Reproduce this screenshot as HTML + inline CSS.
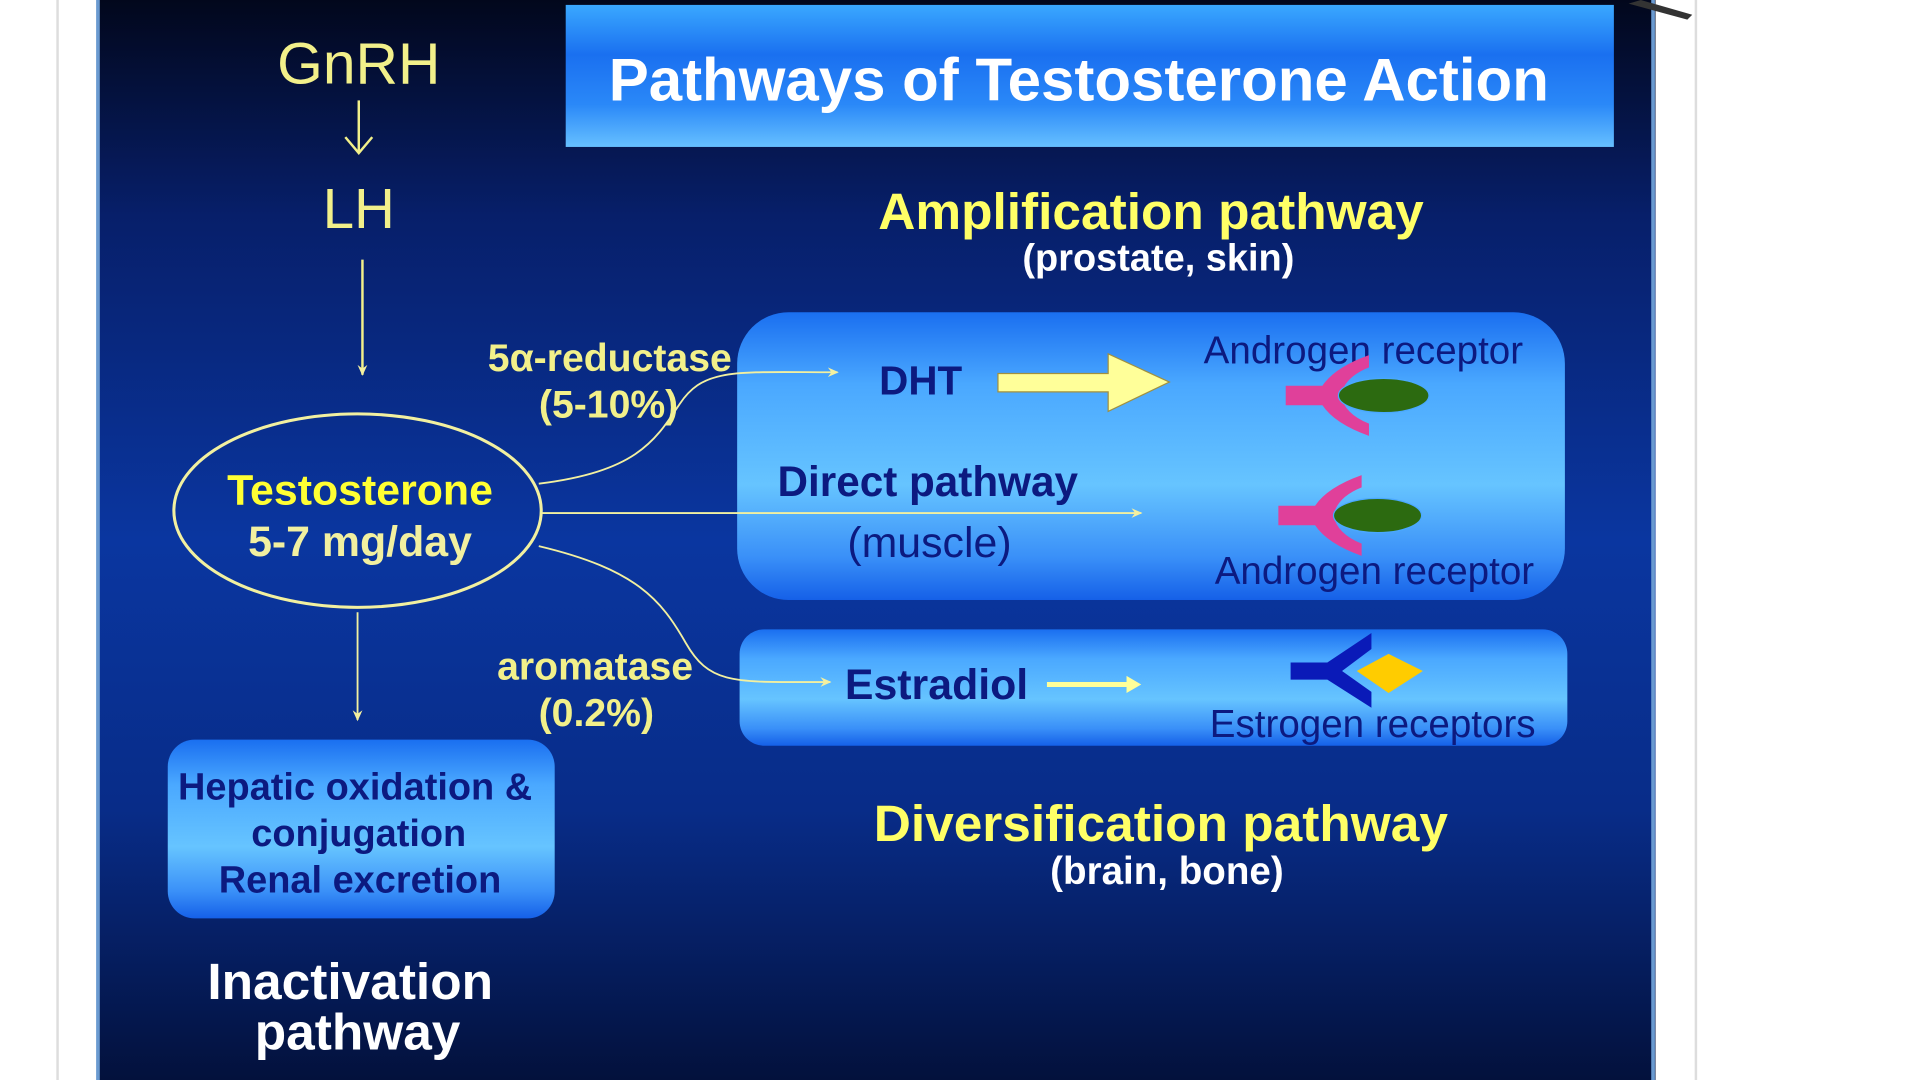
<!DOCTYPE html>
<html><head><meta charset="utf-8"><style>
html,body{margin:0;padding:0;background:#fff;}
svg{display:block;}
text{font-family:"Liberation Sans",Arial,sans-serif;}
</style></head><body>
<svg width="1920" height="1080" viewBox="0 0 1568 882" preserveAspectRatio="none" xmlns="http://www.w3.org/2000/svg">
<defs>
<linearGradient id="bg" x1="0" y1="0" x2="0" y2="1">
<stop offset="0" stop-color="#02071c"/>
<stop offset="0.2" stop-color="#071f6a"/>
<stop offset="0.5" stop-color="#0a36a0"/>
<stop offset="0.75" stop-color="#082c88"/>
<stop offset="1" stop-color="#03113c"/>
</linearGradient>
<linearGradient id="box" x1="0" y1="0" x2="0" y2="1">
<stop offset="0" stop-color="#1a6ff0"/>
<stop offset="0.25" stop-color="#4aa8ff"/>
<stop offset="0.6" stop-color="#66c4ff"/>
<stop offset="0.85" stop-color="#3a90f8"/>
<stop offset="1" stop-color="#1560e8"/>
</linearGradient>
<linearGradient id="title" x1="0" y1="0" x2="0" y2="1">
<stop offset="0" stop-color="#3aa8ff"/>
<stop offset="0.35" stop-color="#1a70f0"/>
<stop offset="0.7" stop-color="#2a88f8"/>
<stop offset="1" stop-color="#66c0ff"/>
</linearGradient>
<marker id="ah" markerWidth="10" markerHeight="10" refX="8" refY="5" orient="auto" markerUnits="userSpaceOnUse">
<path d="M0,1 L9,5 L0,9 L3,5 Z" fill="#f4f0a0"/>
</marker>
</defs>
<rect width="1568" height="882" fill="#fff"/>
<line x1="47" y1="0" x2="47" y2="882" stroke="#ddd" stroke-width="2"/>
<line x1="1385" y1="0" x2="1385" y2="882" stroke="#ddd" stroke-width="2"/>
<rect x="79" y="0" width="1273" height="882" fill="url(#bg)"/>
<line x1="80" y1="0" x2="80" y2="882" stroke="#6a9ad0" stroke-width="3"/>
<line x1="1350" y1="0" x2="1350" y2="882" stroke="#6a9ad0" stroke-width="3"/>
<path d="M1340,0 L1382,12 L1378,16 L1330,3 Z" fill="#333"/>

<rect x="462" y="4" width="856" height="116" fill="url(#title)"/>
<text x="881" y="82" text-anchor="middle" fill="#fff" font-weight="bold" font-size="49">Pathways of Testosterone Action</text>

<text x="293" y="68" text-anchor="middle" fill="#f2f08a" font-size="48">GnRH</text>
<line x1="293" y1="82" x2="293" y2="124" stroke="#f2f08a" stroke-width="2"/>
<path d="M282,112 L293,125 L304,112" fill="none" stroke="#f2f08a" stroke-width="2"/>
<text x="293" y="186" text-anchor="middle" fill="#f2f08a" font-size="46">LH</text>
<line x1="296" y1="212" x2="296" y2="306" stroke="#f2f08a" stroke-width="2" marker-end="url(#ah)"/>

<ellipse cx="292" cy="417" rx="150" ry="79" fill="none" stroke="#f2f0a0" stroke-width="2.5"/>
<text x="294" y="412" text-anchor="middle" fill="#ffff33" font-weight="bold" font-size="35">Testosterone</text>
<text x="294" y="454" text-anchor="middle" fill="#f2f0a0" font-weight="bold" font-size="35">5-7 mg/day</text>
<line x1="292" y1="500" x2="292" y2="588" stroke="#f2f0a0" stroke-width="1.5" marker-end="url(#ah)"/>

<rect x="137" y="604" width="316" height="146" rx="22" fill="url(#box)"/>
<text x="290" y="653" text-anchor="middle" fill="#0c1a80" font-weight="bold" font-size="31">Hepatic oxidation &amp;</text>
<text x="293" y="691" text-anchor="middle" fill="#0c1a80" font-weight="bold" font-size="31">conjugation</text>
<text x="294" y="729" text-anchor="middle" fill="#0c1a80" font-weight="bold" font-size="31">Renal excretion</text>
<text x="286" y="816" text-anchor="middle" fill="#fff" font-weight="bold" font-size="42">Inactivation</text>
<text x="292" y="857" text-anchor="middle" fill="#fff" font-weight="bold" font-size="42">pathway</text>

<text x="940" y="187" text-anchor="middle" fill="#ffff66" font-weight="bold" font-size="42">Amplification pathway</text>
<text x="946" y="221" text-anchor="middle" fill="#fff" font-weight="bold" font-size="31">(prostate, skin)</text>

<rect x="602" y="255" width="676" height="235" rx="42" fill="url(#box)"/>
<rect x="604" y="514" width="676" height="95" rx="20" fill="url(#box)"/>

<text x="718" y="322" fill="#0c1a80" font-weight="bold" font-size="33">DHT</text>
<path d="M815,305 L905,305 L905,289 L955,312 L905,336 L905,320 L815,320 Z" fill="#ffff99" stroke="#a09040" stroke-width="1"/>
<text x="983" y="297" fill="#0c1a80" font-size="31.5">Androgen receptor</text>
<path d="M1050,315 L1080,315 Q1090,300 1118,290 L1118,300 Q1098,308 1095,323 Q1098,338 1118,346 L1118,356 Q1090,346 1080,331 L1050,331 Z" fill="#e0409a"/>
<ellipse cx="1130" cy="323" rx="37" ry="14" fill="#2c6a10" stroke="#4aa8ff" stroke-width="1"/>
<text x="635" y="405" fill="#0c1a80" font-weight="bold" font-size="34.5">Direct pathway</text>
<text x="692" y="455" fill="#0c1a80" font-size="35">(muscle)</text>
<path d="M1044,413 L1074,413 Q1084,398 1112,388 L1112,398 Q1092,406 1089,421 Q1092,436 1112,444 L1112,454 Q1084,444 1074,429 L1044,429 Z" fill="#e0409a"/>
<ellipse cx="1125" cy="421" rx="36" ry="14" fill="#2c6a10" stroke="#4aa8ff" stroke-width="1"/>
<text x="992" y="477" fill="#0c1a80" font-size="31.5">Androgen receptor</text>

<text x="690" y="571" fill="#0c1a80" font-weight="bold" font-size="35">Estradiol</text>
<line x1="855" y1="559" x2="926" y2="559" stroke="#ffff99" stroke-width="4"/>
<path d="M920,552 L932,559 L920,566 Z" fill="#ffff99"/>
<path d="M1134,534 L1162,548 L1134,566 L1108,548 Z" fill="#ffcc00"/>
<path d="M1054,541 L1084,541 L1120,517 L1120,530 L1096,548 L1120,565 L1120,578 L1084,555 L1054,555 Z" fill="#0a1ab8"/>
<text x="988" y="602" fill="#0c1a80" font-size="31.5">Estrogen receptors</text>

<text x="948" y="687" text-anchor="middle" fill="#ffff66" font-weight="bold" font-size="42">Diversification pathway</text>
<text x="953" y="722" text-anchor="middle" fill="#fff" font-weight="bold" font-size="31.5">(brain, bone)</text>

<text x="498" y="303" text-anchor="middle" fill="#f2f08a" font-weight="bold" font-size="32">5α-reductase</text>
<text x="497" y="341" text-anchor="middle" fill="#f2f08a" font-weight="bold" font-size="32">(5-10%)</text>
<text x="486" y="555" text-anchor="middle" fill="#f2f08a" font-weight="bold" font-size="32">aromatase</text>
<text x="487" y="593" text-anchor="middle" fill="#f2f08a" font-weight="bold" font-size="32">(0.2%)</text>

<path d="M440,395 C520,385 535,360 555,330 C575,300 600,304 684,304" fill="none" stroke="#f2f0a0" stroke-width="1.5" marker-end="url(#ah)"/>
<line x1="443" y1="419" x2="932" y2="419" stroke="#f2f0a0" stroke-width="1.5" marker-end="url(#ah)"/>
<path d="M440,446 C520,465 540,490 560,525 C580,560 600,557 678,557" fill="none" stroke="#f2f0a0" stroke-width="1.5" marker-end="url(#ah)"/>
</svg>
</body></html>
